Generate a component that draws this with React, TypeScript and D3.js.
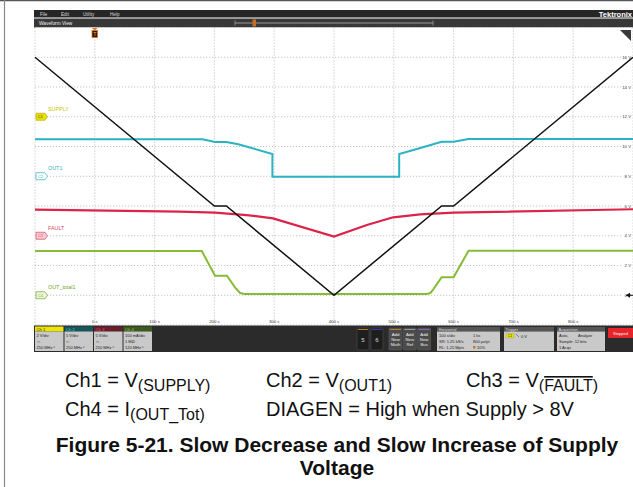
import React from "react";
import * as d3 from "d3";

// ---- data (display scale: seconds, volts at 2 V/div on the right scale) ----
const supplyT = [-100, 200, 220, 400, 580, 600, 900];
const supplyV = [16, 6, 6, 0, 6, 6, 16];

const out1T = [-100, 180, 201, 220, 240, 297, 297, 509, 509, 543, 580, 600, 625, 900];
const out1V = [10.48, 10.48, 10.3, 10.3, 10.15, 9.5, 7.97, 7.97, 9.5, 9.88, 10.32, 10.32, 10.5, 10.5];

const faultT = [-100, 142, 201, 254, 298, 400, 455, 499, 544, 600, 900];
const faultV = [5.75, 5.62, 5.55, 5.39, 5.17, 3.94, 4.72, 5.24, 5.44, 5.55, 5.78];

const totalT = [-100, 179, 201, 221, 235, 243, 250, 555, 561, 567, 580, 600, 625, 900];
const totalV = [2.97, 2.97, 1.31, 1.31, 0.5, 0.15, 0.08, 0.08, 0.15, 0.45, 1.21, 1.21, 2.99, 2.99];

const timeTicks = [0, 100, 200, 300, 400, 500, 600, 700, 800];
const voltTicks = [0, 2, 4, 6, 8, 10, 12, 14, 16];

const channelNames = ["SUPPLY", "OUT1", "FAULT", "OUT_total1"];
const channelMarkLevels = [12, 8, 4, 0];
const channelColors = ["#c9c400", "#29b3c2", "#d9486a", "#6fa828"];
const badgeFills = ["#e9e000", "#ffffff", "#f8cbd3", "#eef6dc"];

const chHeaders = ["Ch 1", "Ch 2", "Ch 3", "Ch 4"];
const chHeaderFills = ["#efe600", "#17575c", "#6a1d2b", "#3b5a1b"];
const chHeaderText = ["#222", "#38c6d2", "#e8506f", "#8ccc3f"];
const chLine1 = ["2 V/div", "5 V/div", "5 V/div", "100 mA/div"];
const chLine2 = ["⎓", "⎓", "⎓", "1 MΩ"];
const chLine3 = ["250 MHz", "250 MHz", "250 MHz", "120 MHz"];

const menuItems = ["File", "Edit", "Utility", "Help"];

const W = 633;
const H = 487;

export default function App() {
  const x = d3.scaleLinear().domain([-100, 900]).range([35, 633]);
  const y = d3.scaleLinear().domain([-2, 18]).range([325, 27.5]);

  const mk = (ts: number[], vs: number[]) =>
    d3
      .line<number>()
      .x((_, i) => x(ts[i]))
      .y((v) => y(v))
      .curve(d3.curveLinear)(vs) || "";

  const gridX = d3.range(-100, 901, 100);
  const gridY = d3.range(-2, 19, 2);
  const tiny = "Liberation Sans, Arial, sans-serif";
  const cap = "Liberation Sans, Arial, sans-serif";

  const chX = [35, 64.5, 94, 123.5];

  return (
    <svg
      width={W}
      height={H}
      viewBox={`0 0 ${W} ${H}`}
      style={{ position: "absolute", left: 0, top: 0, background: "#fff" }}
    >
      {/* outer frame */}
      <line x1={0} y1={0.5} x2={W} y2={0.5} stroke="#555" strokeWidth={1.5} />
      <line x1={4.5} y1={0} x2={4.5} y2={H} stroke="#888" strokeWidth={1.2} />

      {/* menu bar */}
      <rect x={34} y={10} width={W - 34} height={7.5} fill="#262626" />
      {menuItems.map((m, i) => (
        <text key={m} x={[40, 61, 83, 110][i]} y={15.6} fontSize={4.6} fill="#d8d8d8" fontFamily={tiny}>
          {m}
        </text>
      ))}
      <text x={632} y={16.5} fontSize={7.5} fontWeight="bold" fill="#fff" textAnchor="end" fontFamily={tiny}>
        Tektronix
      </text>
      <rect x={34} y={18.5} width={W - 34} height={9} fill="#383838" />
      <text x={39} y={25} fontSize={4.8} fill="#eee" fontFamily={tiny}>
        Waveform View
      </text>
      <line x1={235} y1={23} x2={433} y2={23} stroke="#9a9a9a" strokeWidth={1} />
      <line x1={235} y1={20.5} x2={235} y2={25.5} stroke="#9a9a9a" strokeWidth={0.8} />
      <line x1={433} y1={20.5} x2={433} y2={25.5} stroke="#9a9a9a" strokeWidth={0.8} />
      <rect x={252.5} y={19.5} width={3.5} height={7} fill="#c07020" />

      {/* plot background */}
      <rect x={35} y={27.5} width={W - 35} height={297.5} fill="#fff" />

      {/* grid */}
      {gridX.map((t) => (
        <line key={"gx" + t} x1={x(t)} x2={x(t)} y1={27.5} y2={325} stroke="#b5b5b5" strokeWidth={0.8} strokeDasharray="1.2,1.8" />
      ))}
      {gridY.map((v) => (
        <line key={"gy" + v} x1={35} x2={v >= 0 && v <= 16 ? 622 : W} y1={y(v)} y2={y(v)} stroke="#b5b5b5" strokeWidth={0.8} strokeDasharray="1.2,1.8" />
      ))}

      {/* trigger marker */}
      <polygon points={`${x(0) - 3},28 ${x(0) + 3},28 ${x(0)},30.5`} fill="#e07b1a" />
      <rect x={x(0) - 2.8} y={30.5} width={5.6} height={7} fill="#1a1a1a" stroke="#e07b1a" strokeWidth={0.8} />
      <text x={x(0)} y={36.2} fontSize={5} fill="#e07b1a" textAnchor="middle" fontWeight="bold" fontFamily={tiny}>
        T
      </text>
      <polygon points="620,30 631,30 631,41" fill="#3a3a3a" />

      {/* right scale labels */}
      {voltTicks.map((v) => (
        <text key={"vl" + v} x={631} y={y(v) + 1.5} fontSize={4.3} fill="#333" textAnchor="end" fontFamily={tiny}>
          {v} V
        </text>
      ))}
      {/* time labels */}
      {timeTicks.map((t) => (
        <text key={"tl" + t} x={x(t)} y={323} fontSize={4.3} fill="#333" textAnchor="middle" fontFamily={tiny}>
          {t} s
        </text>
      ))}

      {/* channel labels & badges */}
      {channelNames.map((n, i) => {
        const yy = y(channelMarkLevels[i]);
        return (
          <g key={n}>
            <text x={48} y={yy - 6} fontSize={5.4} fill={channelColors[i]} fontFamily={tiny}>
              {n}
            </text>
            <polygon
              points={`36,${yy - 3.5} 45,${yy - 3.5} 47.5,${yy} 45,${yy + 3.5} 36,${yy + 3.5}`}
              fill={badgeFills[i]}
              stroke={i === 0 ? "#b8b000" : channelColors[i]}
              strokeWidth={0.7}
            />
            <text x={40.5} y={yy + 1.5} fontSize={3.8} fill={i === 0 ? "#333" : channelColors[i]} textAnchor="middle" fontFamily={tiny}>
              {"C" + (i + 1)}
            </text>
          </g>
        );
      })}

      {/* traces */}
      <path d={mk(out1T, out1V)} fill="none" stroke="#2ab3c1" strokeWidth={2} />
      <path d={mk(faultT, faultV)} fill="none" stroke="#dc2448" strokeWidth={2.2} />
      <path d={mk(totalT, totalV)} fill="none" stroke="#86bb38" strokeWidth={2} />
      <path d={mk(supplyT, supplyV)} fill="none" stroke="#111" strokeWidth={1.5} />

      {/* trigger level arrow */}
      <polygon points={`626,${y(0)} 630,${y(0) - 2.5} 630,${y(0) + 2.5}`} fill="#111" />
      <line x1={626} x2={633} y1={y(0)} y2={y(0)} stroke="#111" strokeWidth={1} />

      {/* bottom bar */}
      <rect x={34} y={325.5} width={W - 34} height={26.5} fill="#2b2b2b" />
      {chHeaders.map((h, i) => (
        <g key={h}>
          <rect x={chX[i]} y={326.5} width={28.5} height={5} fill={chHeaderFills[i]} />
          <text x={chX[i] + 1.5} y={330.6} fontSize={4.2} fill={chHeaderText[i]} fontFamily={tiny}>
            {h}
          </text>
          <rect x={chX[i]} y={331.5} width={28.5} height={19.5} fill="#c9c9c9" />
          <text x={chX[i] + 1.5} y={337} fontSize={4} fill="#222" fontFamily={tiny}>
            {chLine1[i]}
          </text>
          <text x={chX[i] + 1.5} y={342.5} fontSize={4} fill="#222" fontFamily={tiny}>
            {chLine2[i]}
          </text>
          <text x={chX[i] + 1.5} y={349} fontSize={4} fill="#222" fontFamily={tiny}>
            {chLine3[i] + " ⁿ"}
          </text>
        </g>
      ))}
      {["5", "6"].map((b, i) => (
        <g key={b}>
          <rect x={357 + i * 14} y={328} width={12} height={22} rx={1} fill="#1e1e1e" stroke="#555" strokeWidth={0.5} />
          <line x1={358 + i * 14} x2={368 + i * 14} y1={329.5} y2={329.5} stroke={i === 0 ? "#c07a2a" : "#3a3ab0"} strokeWidth={1} />
          <text x={363 + i * 14} y={342} fontSize={6} fill="#ddd" textAnchor="middle" fontFamily={tiny}>
            {b}
          </text>
        </g>
      ))}
      {["Math", "Ref", "Bus"].map((b, i) => (
        <g key={b}>
          <rect x={389 + i * 14.3} y={328} width={13} height={22} rx={1} fill="#4a4a4a" stroke="#666" strokeWidth={0.5} />
          <line x1={390 + i * 14.3} x2={401 + i * 14.3} y1={329.5} y2={329.5} stroke={["#c07a2a", "#999", "#9a5ac0"][i]} strokeWidth={1} />
          {["Add", "New", b].map((s, j) => (
            <text key={s + j} x={395.5 + i * 14.3} y={336 + j * 5} fontSize={4.3} fill="#eee" textAnchor="middle" fontFamily={tiny}>
              {s}
            </text>
          ))}
        </g>
      ))}
      {/* horizontal */}
      <rect x={437} y={327} width={63} height={4.5} fill="#555" />
      <text x={438.5} y={330.7} fontSize={4} fill="#ddd" fontFamily={tiny}>Horizontal</text>
      <rect x={437} y={331.5} width={63} height={19.5} fill="#c9c9c9" />
      <text x={439} y={337} fontSize={4} fill="#222" fontFamily={tiny}>100 s/div</text>
      <text x={473} y={337} fontSize={4} fill="#222" fontFamily={tiny}>1 ks</text>
      <text x={439} y={343} fontSize={4} fill="#222" fontFamily={tiny}>SR: 1.25 kS/s</text>
      <text x={473} y={343} fontSize={4} fill="#222" fontFamily={tiny}>800 µs/pt</text>
      <text x={439} y={349} fontSize={4} fill="#222" fontFamily={tiny}>RL: 1.25 Mpts</text>
      <rect x={473} y={346} width={2.5} height={2.5} fill="#c07a2a" />
      <text x={477} y={349} fontSize={4} fill="#222" fontFamily={tiny}>10%</text>
      {/* trigger */}
      <rect x={504} y={327} width={50} height={4.5} fill="#555" />
      <text x={505.5} y={330.7} fontSize={4} fill="#ddd" fontFamily={tiny}>Trigger</text>
      <rect x={504} y={331.5} width={50} height={19.5} fill="#c9c9c9" />
      <rect x={506} y={333.5} width={8} height={4.5} fill="#e9e000" stroke="#999" strokeWidth={0.4} />
      <text x={510} y={337.2} fontSize={3.5} fill="#333" textAnchor="middle" fontFamily={tiny}>C1</text>
      <line x1={516} y1={334} x2={519} y2={337} stroke="#333" strokeWidth={0.5} />
      <text x={521} y={337.5} fontSize={4} fill="#222" fontFamily={tiny}>0 V</text>
      {/* acquisition */}
      <rect x={557} y={327} width={48} height={4.5} fill="#555" />
      <text x={558.5} y={330.7} fontSize={4} fill="#ddd" fontFamily={tiny}>Acquisition</text>
      <rect x={557} y={331.5} width={48} height={19.5} fill="#c9c9c9" />
      <text x={559} y={337} fontSize={4} fill="#222" fontFamily={tiny}>Auto,</text>
      <text x={578} y={337} fontSize={4} fill="#222" fontFamily={tiny}>Analyze</text>
      <text x={559} y={343} fontSize={4} fill="#222" fontFamily={tiny}>Sample: 12 bits</text>
      <text x={559} y={349} fontSize={4} fill="#222" fontFamily={tiny}>1 Acqs</text>
      {/* stopped */}
      <rect x={608} y={328} width={25} height={10} fill="#e8242a" />
      <text x={620.5} y={334.6} fontSize={4} fill="#fff" textAnchor="middle" fontFamily={tiny}>Stopped</text>

      {/* captions */}
      <text x={65} y={387} fontSize={20} fill="#111" fontFamily={cap}>
        Ch1 = V<tspan fontSize={16} dy={4}>(SUPPLY)</tspan>
      </text>
      <text x={266} y={387} fontSize={20} fill="#111" fontFamily={cap}>
        Ch2 = V<tspan fontSize={16} dy={4}>(OUT1)</tspan>
      </text>
      <text x={466} y={387} fontSize={20} fill="#111" fontFamily={cap}>
        Ch3 = V<tspan fontSize={16} dy={4}>(</tspan>
        <tspan fontSize={16} style={{ textDecoration: "overline" }}>FAULT</tspan>
        <tspan fontSize={16}>)</tspan>
      </text>
      <text x={65} y={416} fontSize={20} fill="#111" fontFamily={cap}>
        Ch4 = I<tspan fontSize={16} dy={4}>(OUT_Tot)</tspan>
      </text>
      <text x={266} y={416} fontSize={20} fill="#111" fontFamily={cap}>
        DIAGEN = High when Supply &gt; 8V
      </text>
      <text x={337} y={452} fontSize={21} fontWeight="bold" fill="#111" textAnchor="middle" fontFamily={cap}>
        Figure 5-21. Slow Decrease and Slow Increase of Supply
      </text>
      <text x={337} y={475} fontSize={21} fontWeight="bold" fill="#111" textAnchor="middle" fontFamily={cap}>
        Voltage
      </text>
    </svg>
  );
}
